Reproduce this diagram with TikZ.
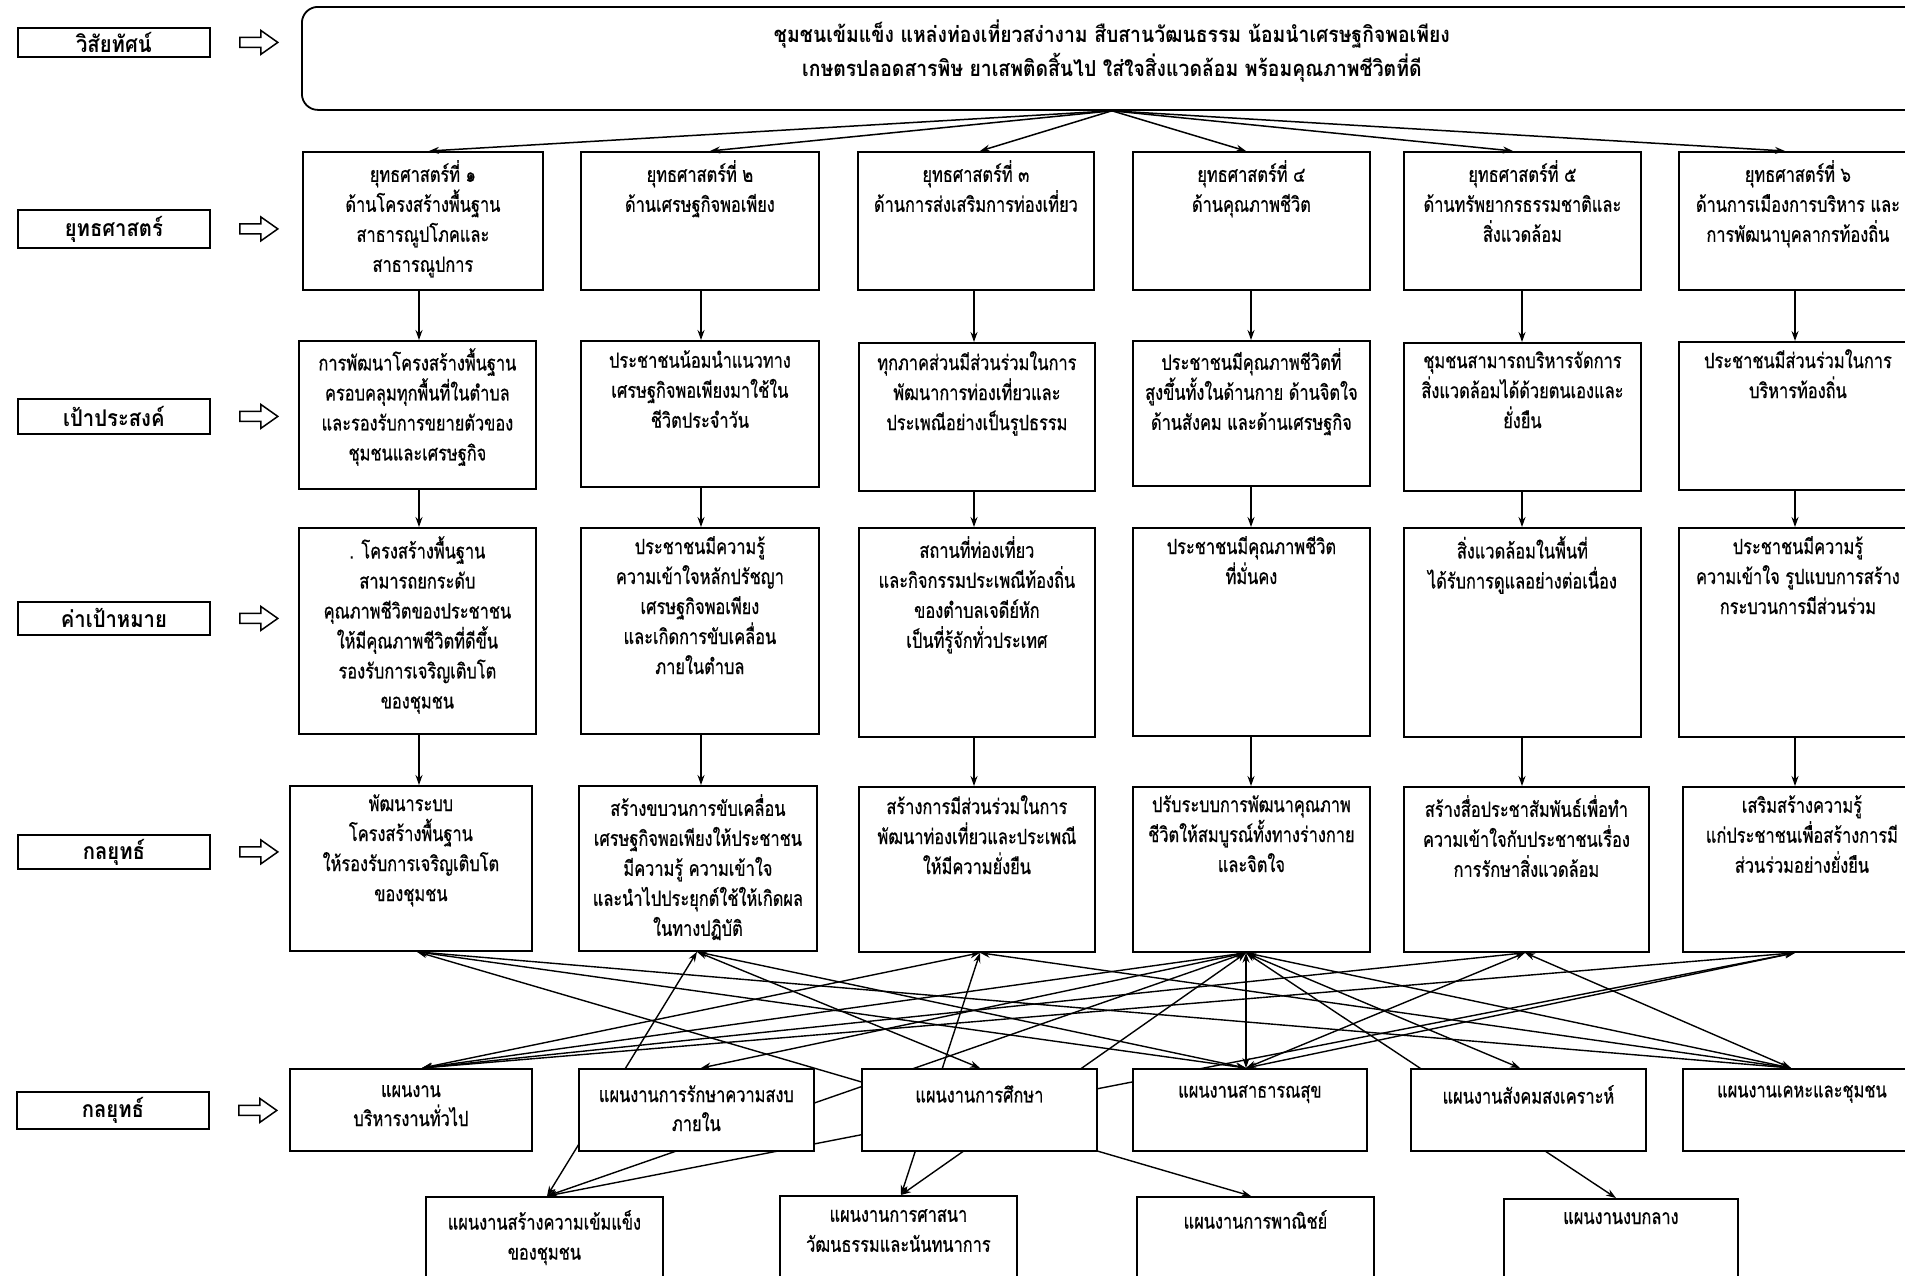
\documentclass[tikz,border=0pt]{standalone}
\usepackage{fontspec}
\newfontfamily\thai[Script=Thai, FakeStretch=0.78, FakeBold=0.6]{Loma}
\newfontfamily\thaib[Script=Thai, FakeStretch=0.88]{Loma}
\usetikzlibrary{arrows.meta, calc}

\newcommand{\oarrow}[1]{\draw[line width=1.5pt, fill=white] ($(#1.east)+(29,-5)$) -- ++(21,0) -- ++(0,-7) -- ++(17,12) -- ++(-17,12) -- ++(0,-7) -- ++(-21,0) -- cycle;}

\begin{document}
\begin{tikzpicture}[x=1pt, y=-1pt,
  bx/.style={draw, line width=1.8pt, fill=white, inner sep=0pt, anchor=north west},
  lbl/.style={draw, line width=1.8pt, fill=white, minimum width=192pt, inner sep=0pt, anchor=north west, font=\thaib\bfseries\fontsize{23}{28}\selectfont},
  tx/.style={align=center, inner sep=0pt, anchor=north, font=\thai\fontsize{21}{30}\selectfont},
  ar/.style={-{Stealth[length=10pt,width=7pt]}, line width=1.5pt},
  mesh/.style={{Stealth[length=10pt,width=7pt]}-{Stealth[length=10pt,width=7pt]}, line width=1.4pt},
]
\useasboundingbox (0,0) rectangle (1905,1275);
\clip (0,0) rectangle (1905,1275);
\fill[white] (0,0) rectangle (1905,1275);

% ---------- left labels ----------
\node[lbl, minimum height=29pt] (l1) at (17,27) {วิสัยทัศน์};
\node[lbl, minimum height=38pt] (l2) at (17,209) {ยุทธศาสตร์};
\node[lbl, minimum height=35pt] (l3) at (17,398) {เป้าประสงค์};
\node[lbl, minimum height=33pt] (l4) at (17,601) {ค่าเป้าหมาย};
\node[lbl, minimum height=34pt] (l5) at (17,834) {กลยุทธ์};
\node[lbl, minimum height=37pt] (l6) at (16,1091) {กลยุทธ์};
\oarrow{l1}\oarrow{l2}\oarrow{l3}\oarrow{l4}\oarrow{l5}\oarrow{l6}

% ---------- vision ----------
\node[bx, rounded corners=16pt, minimum width=1620pt, minimum height=103pt] (vis) at (301,6) {};
\node[align=center, inner sep=0pt, font=\thaib\bfseries\fontsize{22}{34}\selectfont] (vist) at ([yshift=7]vis.center)
 {ชุมชนเข้มแข็ง แหล่งท่องเที่ยวสง่างาม สืบสานวัฒนธรรม น้อมนำเศรษฐกิจพอเพียง\\
  เกษตรปลอดสารพิษ ยาเสพติดสิ้นไป ใส่ใจสิ่งแวดล้อม พร้อมคุณภาพชีวิตที่ดี};

% ---------- strategies ----------
\node[bx, minimum width=240pt, minimum height=138pt] (s1) at (302,151) {};
\node[bx, minimum width=238pt, minimum height=138pt] (s2) at (580,151) {};
\node[bx, minimum width=236pt, minimum height=138pt] (s3) at (857,151) {};
\node[bx, minimum width=237pt, minimum height=138pt] (s4) at (1132,151) {};
\node[bx, minimum width=237pt, minimum height=138pt] (s5) at (1403,151) {};
\node[bx, minimum width=238pt, minimum height=138pt] (s6) at (1678,151) {};
% objectives
\node[bx, minimum width=237pt, minimum height=148pt] (o1) at (298,340) {};
\node[bx, minimum width=238pt, minimum height=146pt] (o2) at (580,340) {};
\node[bx, minimum width=236pt, minimum height=148pt] (o3) at (858,342) {};
\node[bx, minimum width=237pt, minimum height=145pt] (o4) at (1132,340) {};
\node[bx, minimum width=237pt, minimum height=148pt] (o5) at (1403,342) {};
\node[bx, minimum width=238pt, minimum height=148pt] (o6) at (1678,341) {};
% targets
\node[bx, minimum width=237pt, minimum height=206pt] (g1) at (298,527) {};
\node[bx, minimum width=238pt, minimum height=206pt] (g2) at (580,527) {};
\node[bx, minimum width=236pt, minimum height=209pt] (g3) at (858,527) {};
\node[bx, minimum width=237pt, minimum height=208pt] (g4) at (1132,527) {};
\node[bx, minimum width=237pt, minimum height=209pt] (g5) at (1403,527) {};
\node[bx, minimum width=238pt, minimum height=209pt] (g6) at (1678,527) {};

% column reference coordinates
\coordinate (c1) at (419,0);
\coordinate (c2) at (701,0);
\coordinate (c3) at (974,0);
\coordinate (c4) at (1251,0);
\coordinate (c5) at (1522,0);
\coordinate (c6) at (1795,0);

% tactics geometry (invisible placeholders so the mesh can use them)
\path
 (289,785) node[bx, draw=none, fill=none, minimum width=242pt, minimum height=165pt] (t1) {}
 (578,785) node[bx, draw=none, fill=none, minimum width=238pt, minimum height=165pt] (t2) {}
 (858,786) node[bx, draw=none, fill=none, minimum width=236pt, minimum height=165pt] (t3) {}
 (1132,786) node[bx, draw=none, fill=none, minimum width=237pt, minimum height=165pt] (t4) {}
 (1403,786) node[bx, draw=none, fill=none, minimum width=245pt, minimum height=165pt] (t5) {}
 (1682,786) node[bx, draw=none, fill=none, minimum width=238pt, minimum height=165pt] (t6) {};

% hub coordinates
\coordinate (th1) at (t1.south -| 417,0);
\coordinate (th2) at (t2.south -| 697,0);
\coordinate (th3) at (t3.south -| 980,0);
\coordinate (th4) at (t4.south -| 1246,0);
\coordinate (th5) at (t5.south -| 1525,0);
\coordinate (th6) at (t6.south -| 1795,0);
\coordinate (ph1) at (422,1068);
\coordinate (ph2) at (701,1068);
\coordinate (ph3) at (980,1068);
\coordinate (ph4) at (1246,1068);
\coordinate (ph5) at (1520,1068);
\coordinate (ph6) at (1791,1068);
\coordinate (bh1) at (547,1196);
\coordinate (bh2) at (901,1195);
\coordinate (bh3) at (1251,1196);
\coordinate (bh4) at (1616,1198);

% ---------- mesh ----------
\foreach \a/\b in {th1/ph4, th1/ph6, th2/ph3, th2/ph4, th3/ph1, th3/ph6,
                   th4/ph1, th4/ph2, th4/ph4, th4/ph5, th4/ph6,
                   th5/ph1, th5/ph4, th5/ph6, th6/ph1, th6/ph4,
                   th2/bh1, th4/bh1, th6/bh1, th3/bh2, th4/bh2, th1/bh3, th4/bh4}
  \draw[mesh] (\a) -- (\b);

% tactics boxes
\node[bx, minimum width=242pt, minimum height=165pt] (t1b) at (t1.north west) {};
\node[bx, minimum width=238pt, minimum height=165pt] (t2b) at (t2.north west) {};
\node[bx, minimum width=236pt, minimum height=165pt] (t3b) at (t3.north west) {};
\node[bx, minimum width=237pt, minimum height=165pt] (t4b) at (t4.north west) {};
\node[bx, minimum width=245pt, minimum height=165pt] (t5b) at (t5.north west) {};
\node[bx, minimum width=238pt, minimum height=165pt] (t6b) at (t6.north west) {};
% plans
\node[bx, minimum width=242pt, minimum height=82pt] (p1) at (289,1068) {};
\node[bx, minimum width=235pt, minimum height=82pt] (p2) at (578,1068) {};
\node[bx, minimum width=235pt, minimum height=82pt] (p3) at (861,1068) {};
\node[bx, minimum width=234pt, minimum height=82pt] (p4) at (1132,1068) {};
\node[bx, minimum width=235pt, minimum height=82pt] (p5) at (1410,1068) {};
\node[bx, minimum width=238pt, minimum height=82pt] (p6) at (1682,1068) {};
% bottom plans
\node[bx, minimum width=237pt, minimum height=100pt] (b1) at (425,1196) {};
\node[bx, minimum width=237pt, minimum height=100pt] (b2) at (779,1195) {};
\node[bx, minimum width=237pt, minimum height=100pt] (b3) at (1136,1196) {};
\node[bx, minimum width=234pt, minimum height=100pt] (b4) at (1503,1198) {};

% ---------- vision arrows ----------
\draw[ar] (vis.south) -- (s1.north -| 429,0);
\draw[ar] (vis.south) -- (s2.north -| 710,0);
\draw[ar] (vis.south) -- (s3.north -| 980,0);
\draw[ar] (vis.south) -- (s4.north -| 1246,0);
\draw[ar] (vis.south) -- (s5.north -| 1513,0);
\draw[ar] (vis.south) -- (s6.north -| 1785,0);

% ---------- vertical arrows ----------
\foreach \i in {1,...,6} {
  \draw[ar] (s\i.south -| c\i) -- (o\i.north -| c\i);
  \draw[ar] (o\i.south -| c\i) -- (g\i.north -| c\i);
  \draw[ar] (g\i.south -| c\i) -- (t\i b.north -| c\i);
}

% ---------- texts ----------
\node[tx] (s1x) at ([yshift=-9]s1.north) {ยุทธศาสตร์ที่ ๑\\ด้านโครงสร้างพื้นฐาน\\สาธารณูปโภคและ\\สาธารณูปการ};
\node[tx] (s2x) at ([yshift=-9]s2.north) {ยุทธศาสตร์ที่ ๒\\ด้านเศรษฐกิจพอเพียง};
\node[tx] (s3x) at ([yshift=-9]s3.north) {ยุทธศาสตร์ที่ ๓\\ด้านการส่งเสริมการท่องเที่ยว};
\node[tx] (s4x) at ([yshift=-9]s4.north) {ยุทธศาสตร์ที่ ๔\\ด้านคุณภาพชีวิต};
\node[tx] (s5x) at ([yshift=-9]s5.north) {ยุทธศาสตร์ที่ ๕\\ด้านทรัพยากรธรรมชาติและ\\สิ่งแวดล้อม};
\node[tx] (s6x) at ([yshift=-9]s6.north) {ยุทธศาสตร์ที่ ๖\\ด้านการเมืองการบริหาร และ\\การพัฒนาบุคลากรท้องถิ่น};

\node[tx] (o1x) at ([yshift=-8]o1.north) {การพัฒนาโครงสร้างพื้นฐาน\\ครอบคลุมทุกพื้นที่ในตำบล\\และรองรับการขยายตัวของ\\ชุมชนและเศรษฐกิจ};
\node[tx] (o2x) at ([yshift=-10]o2.north) {ประชาชนน้อมนำแนวทาง\\เศรษฐกิจพอเพียงมาใช้ใน\\ชีวิตประจำวัน};
\node[tx] (o3x) at ([yshift=-9]o3.north) {ทุกภาคส่วนมีส่วนร่วมในการ\\พัฒนาการท่องเที่ยวและ\\ประเพณีอย่างเป็นรูปธรรม};
\node[tx] (o4x) at ([yshift=-8]o4.north) {ประชาชนมีคุณภาพชีวิตที่\\สูงขึ้นทั้งในด้านกาย ด้านจิตใจ\\ด้านสังคม และด้านเศรษฐกิจ};
\node[tx] (o5x) at ([yshift=-9]o5.north) {ชุมชนสามารถบริหารจัดการ\\สิ่งแวดล้อมได้ด้วยตนเองและ\\ยั่งยืน};
\node[tx] (o6x) at ([yshift=-8]o6.north) {ประชาชนมีส่วนร่วมในการ\\บริหารท้องถิ่น};

\node[tx] (g1x) at ([yshift=-9]g1.north) {. โครงสร้างพื้นฐาน\\สามารถยกระดับ\\คุณภาพชีวิตของประชาชน\\ให้มีคุณภาพชีวิตที่ดีขึ้น\\รองรับการเจริญเติบโต\\ของชุมชน};
\node[tx] (g2x) at ([yshift=-9]g2.north) {ประชาชนมีความรู้\\ความเข้าใจหลักปรัชญา\\เศรษฐกิจพอเพียง\\และเกิดการขับเคลื่อน\\ภายในตำบล};
\node[tx] (g3x) at ([yshift=-9]g3.north) {สถานที่ท่องเที่ยว\\และกิจกรรมประเพณีท้องถิ่น\\ของตำบลเจดีย์หัก\\เป็นที่รู้จักทั่วประเทศ};
\node[tx] (g4x) at ([yshift=-9]g4.north) {ประชาชนมีคุณภาพชีวิต\\ที่มั่นคง};
\node[tx] (g5x) at ([yshift=-9]g5.north) {สิ่งแวดล้อมในพื้นที่\\ได้รับการดูแลอย่างต่อเนื่อง};
\node[tx] (g6x) at ([yshift=-9]g6.north) {ประชาชนมีความรู้\\ความเข้าใจ รูปแบบการสร้าง\\กระบวนการมีส่วนร่วม};

\node[tx] (t1x) at ([yshift=-9]t1b.north) {พัฒนาระบบ\\โครงสร้างพื้นฐาน\\ให้รองรับการเจริญเติบโต\\ของชุมชน};
\node[tx] (t2x) at ([yshift=-9]t2b.north) {สร้างขบวนการขับเคลื่อน\\เศรษฐกิจพอเพียงให้ประชาชน\\มีความรู้ ความเข้าใจ\\และนำไปประยุกต์ใช้ให้เกิดผล\\ในทางปฏิบัติ};
\node[tx] (t3x) at ([yshift=-9]t3b.north) {สร้างการมีส่วนร่วมในการ\\พัฒนาท่องเที่ยวและประเพณี\\ให้มีความยั่งยืน};
\node[tx] (t4x) at ([yshift=-9]t4b.north) {ปรับระบบการพัฒนาคุณภาพ\\ชีวิตให้สมบูรณ์ทั้งทางร่างกาย\\และจิตใจ};
\node[tx] (t5x) at ([yshift=-9]t5b.north) {สร้างสื่อประชาสัมพันธ์เพื่อทำ\\ความเข้าใจกับประชาชนเรื่อง\\การรักษาสิ่งแวดล้อม};
\node[tx] (t6x) at ([yshift=-9]t6b.north) {เสริมสร้างความรู้\\แก่ประชาชนเพื่อสร้างการมี\\ส่วนร่วมอย่างยั่งยืน};

\node[tx, font=\thai\fontsize{21}{29}\selectfont] (p1x) at ([yshift=-17]p1.north) {แผนงาน\\บริหารงานทั่วไป};
\node[tx, font=\thai\fontsize{21}{29}\selectfont] (p2x) at ([yshift=-17]p2.north) {แผนงานการรักษาความสงบ\\ภายใน};
\node[tx] (p3x) at ([yshift=-17]p3.north) {แผนงานการศึกษา};
\node[tx] (p4x) at ([yshift=-17]p4.north) {แผนงานสาธารณสุข};
\node[tx] (p5x) at ([yshift=-17]p5.north) {แผนงานสังคมสงเคราะห์};
\node[tx] (p6x) at ([yshift=-17]p6.north) {แผนงานเคหะและชุมชน};

\node[tx] (b1x) at ([yshift=-14]b1.north) {แผนงานสร้างความเข้มแข็ง\\ของชุมชน};
\node[tx] (b2x) at ([yshift=-14]b2.north) {แผนงานการศาสนา\\วัฒนธรรมและนันทนาการ};
\node[tx] (b3x) at ([yshift=-14]b3.north) {แผนงานการพาณิชย์};
\node[tx] (b4x) at ([yshift=-14]b4.north) {แผนงานงบกลาง};
\end{tikzpicture}
\end{document}
